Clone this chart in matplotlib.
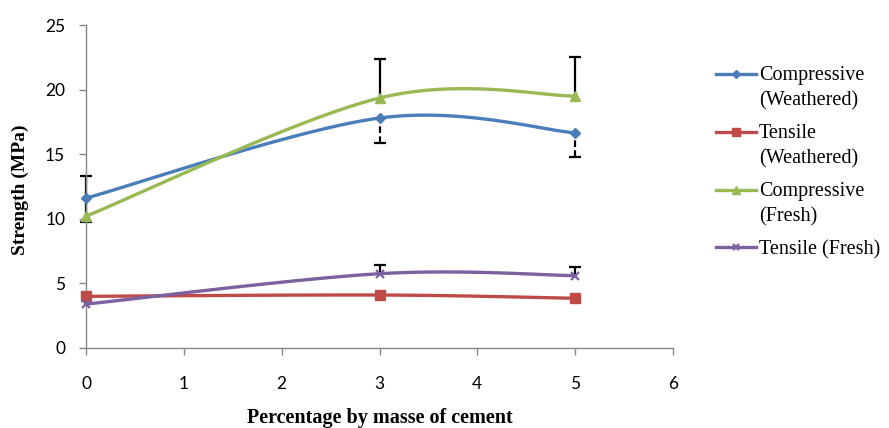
import matplotlib
matplotlib.use("Agg")
import matplotlib.pyplot as plt
from matplotlib.legend_handler import HandlerLine2D
import numpy as np

# data
pct = [0, 3, 5]
comp_weathered = [11.6, 17.8, 16.65]
tens_weathered = [4.0, 4.1, 3.85]
comp_fresh = [10.2, 19.35, 19.5]
tens_fresh = [3.4, 5.75, 5.6]

# error bars (upper solid, lower dashed as in the original)
comp_weathered_up = [1.7, 0, 0]
comp_weathered_down_solid = [1.85, 0, 0]
comp_weathered_down_dashed = [0, 1.9, 1.85]
comp_fresh_up = [0, 3.05, 3.0]
tens_fresh_up = [0, 0.7, 0.7]

labels = ["Compressive\n(Weathered)", "Tensile\n(Weathered)",
          "Compressive\n(Fresh)", "Tensile (Fresh)"]
colors = ["#4A7EBB", "#BE4B48", "#98B954", "#7D60A0"]
markers = ["D", "s", "^", "x"]
msizes = [5, 7, 7.5, 6]


def excel_smooth(x, y, n=60):
    # bezier smoothing the way spreadsheet "smoothed line" charts do it
    p = np.column_stack([x, y]).astype(float)
    out = []
    t = np.linspace(0, 1, n)[:, None]
    for i in range(len(p) - 1):
        p0 = p[max(i - 1, 0)]
        p1 = p[i]
        p2 = p[i + 1]
        p3 = p[min(i + 2, len(p) - 1)]
        c1 = p1 + (p2 - p0) / 6
        c2 = p2 - (p3 - p1) / 6
        seg = ((1 - t) ** 3) * p1 + 3 * ((1 - t) ** 2) * t * c1 + 3 * (1 - t) * t ** 2 * c2 + t ** 3 * p2
        out.append(seg)
    s = np.vstack(out)
    return s[:, 0], s[:, 1]


def draw_err(ax, x, y, down, up, dashed=False):
    # only the points that actually have an error bar
    x, y, down, up = map(np.asarray, (x, y, down, up))
    keep = (down > 0) | (up > 0)
    eb = ax.errorbar(x[keep], y[keep], yerr=[down[keep], up[keep]], fmt="none",
                     ecolor="black", elinewidth=1.6, capsize=4.5, capthick=1.6, zorder=2)
    for art in list(eb[1]) + list(eb[2]):
        art.set_clip_on(False)
    # drop the cap that sits on the data point itself
    lo_cap, hi_cap = eb[1]
    if np.all(down[keep] == 0):
        lo_cap.set_visible(False)
    if np.all(up[keep] == 0):
        hi_cap.set_visible(False)
    if dashed:
        for lc in eb[2]:
            lc.set_linestyle((0, (3, 1.5)))


class FirstLineHandler(HandlerLine2D):
    # put the legend line next to the first line of a two-line label
    def __init__(self, shift, **kw):
        super().__init__(**kw)
        self.shift = shift

    def create_artists(self, legend, orig_handle, xdescent, ydescent, width, height,
                       fontsize, trans):
        return super().create_artists(legend, orig_handle, xdescent, ydescent - 2 * self.shift,
                                      width, height, fontsize, trans)


fig = plt.figure(figsize=(8.89, 4.28), dpi=100)
ax = fig.add_axes([86 / 889, 1 - 348 / 428, (673 - 86) / 889, (348 - 25) / 428])

series = [comp_weathered, tens_weathered, comp_fresh, tens_fresh]
handles = []
for ys, c, m, ms, lab in zip(series, colors, markers, msizes, labels):
    sx, sy = excel_smooth(pct, ys)
    ax.plot(sx, sy, color=c, lw=2.4, solid_capstyle="round", zorder=3, clip_on=False)
    mew = 1.6 if m == "x" else 1
    ax.plot(pct, ys, ls="none", marker=m, ms=ms, color=c, mew=mew, zorder=4, clip_on=False)
    h, = ax.plot([], [], color=c, lw=2.4, marker=m, ms=ms * 0.8, mew=mew, label=lab)
    handles.append(h)

draw_err(ax, pct, comp_weathered, comp_weathered_down_solid, comp_weathered_up)
draw_err(ax, pct, comp_fresh, [0, 0, 0], comp_fresh_up)
draw_err(ax, pct, tens_fresh, [0, 0, 0], tens_fresh_up)
draw_err(ax, pct, comp_weathered, comp_weathered_down_dashed, [0, 0, 0], dashed=True)

ax.set_xlim(0, 6)
ax.set_ylim(0, 25)
ax.set_xticks(range(0, 7))
ax.set_yticks(range(0, 26, 5))
for s in ["top", "right"]:
    ax.spines[s].set_visible(False)
for s in ["left", "bottom"]:
    ax.spines[s].set_color("#868686")
    ax.spines[s].set_linewidth(1)
ax.tick_params(axis="both", colors="#868686", length=5, width=1, labelcolor="black",
               labelsize=12.5)
ax.tick_params(axis="y", pad=10)
ax.tick_params(axis="x", pad=15)
for lbl in ax.get_xticklabels() + ax.get_yticklabels():
    lbl.set_family("Lato")

fig.text(380 / 889, 1 - 418 / 428, "Percentage by masse of cement", ha="center", va="center",
         family="Liberation Serif", weight="bold", fontsize=14.5)
fig.text(20 / 889, 1 - 190 / 428, "Strength (MPa)", ha="center", va="center", rotation=90,
         family="Liberation Serif", weight="bold", fontsize=14)

hmap = {h: FirstLineHandler(10.5) for h, lab in zip(handles, labels) if "\n" in lab}
leg = fig.legend(handles=handles, loc="upper left", bbox_to_anchor=(716 / 889, 1 - 66 / 428),
                 frameon=False, prop={"family": "Liberation Serif", "size": 14.5},
                 handlelength=2.0, handletextpad=0.12, labelspacing=0.68, borderaxespad=0,
                 borderpad=0, handler_map=hmap)
for t in leg.get_texts():
    t.set_linespacing(1.43)

fig.savefig("out.png", dpi=100)
